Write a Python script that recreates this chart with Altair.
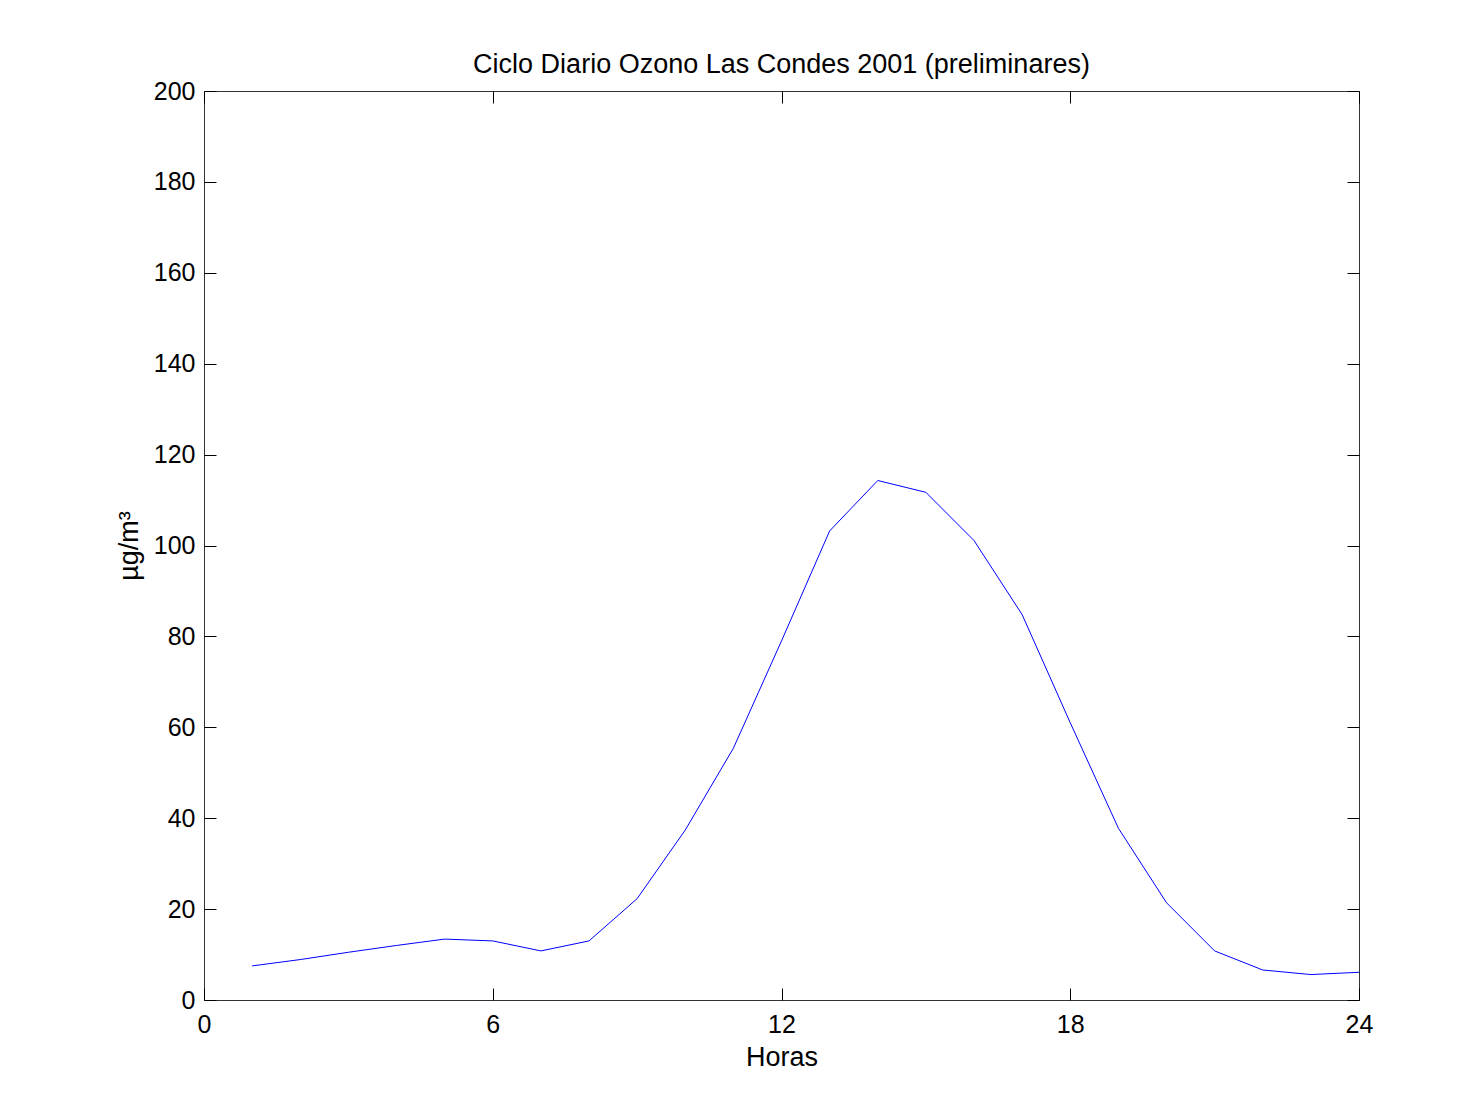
import altair as alt
import pandas as pd

hours = list(range(1, 25))
ozone = [7.5, 8.9, 10.5, 12.0, 13.4, 13.0, 10.8, 13.0, 22.3, 37.4, 55.4, 79.0,
         103.2, 114.3, 111.7, 101.1, 84.8, 61.0, 37.8, 21.4, 10.8, 6.6, 5.6, 6.1]
x_ticks = [0, 6, 12, 18, 24]
y_ticks = [0, 20, 40, 60, 80, 100, 120, 140, 160, 180, 200]

df = pd.DataFrame({"hora": hours, "ozono": ozone})

W, H = 1155, 909
FONT = "Liberation Sans"
FS = 25
TFS = 27

xscale = alt.Scale(domain=[0, 24], nice=False, zero=False)
yscale = alt.Scale(domain=[0, 200], nice=False, zero=True)

label_axis_common = dict(
    ticks=False, tickSize=0, domain=False, grid=False, labelFlush=False,
    labelFont=FONT, labelFontSize=FS, labelColor="black",
    titleFont=FONT, titleFontSize=TFS, titleColor="black", titleFontWeight="normal",
)

main = alt.Chart(df).mark_line(color="#0000ff", strokeWidth=1).encode(
    x=alt.X("hora:Q", scale=xscale,
            axis=alt.Axis(orient="bottom", values=x_ticks, title="Horas",
                          labelPadding=12, titlePadding=7, **label_axis_common)),
    y=alt.Y("ozono:Q", scale=yscale,
            axis=alt.Axis(orient="left", values=y_ticks, title="µg/m³",
                          labelPadding=9, titlePadding=10, **label_axis_common)),
)

def tick_axis(orient, values, offset):
    return alt.Axis(orient=orient, values=values, offset=offset, labels=False,
                    domain=False, grid=False, title=None, ticks=True,
                    tickSize=12, tickColor="black", tickWidth=1)

# inward ticks at the bottom edge and left edge
inner1 = alt.Chart(df).mark_line(opacity=0).encode(
    x=alt.X("hora:Q", scale=xscale, axis=tick_axis("top", x_ticks, -H)),
    y=alt.Y("ozono:Q", scale=yscale, axis=tick_axis("right", y_ticks, -W)),
)
# inward ticks at the top edge and right edge
inner2 = alt.Chart(df).mark_line(opacity=0).encode(
    x=alt.X("hora:Q", scale=xscale, axis=tick_axis("bottom", x_ticks, -H)),
    y=alt.Y("ozono:Q", scale=yscale, axis=tick_axis("left", y_ticks, -W)),
)

chart = alt.layer(main, inner1, inner2).resolve_axis(
    x="independent", y="independent"
).properties(
    width=W, height=H,
    autosize=alt.AutoSizeParams(type="none"),
    padding={"left": 196, "top": 83, "right": 114, "bottom": 109},
    title=alt.Title("Ciclo Diario Ozono Las Condes 2001 (preliminares)",
                    font=FONT, fontSize=TFS, fontWeight="normal", color="black",
                    anchor="middle", offset=0),
    background="white",
).configure_view(stroke="#333333", strokeWidth=1)

chart.save("out.html", embed_options={"renderer": "svg", "actions": False})
